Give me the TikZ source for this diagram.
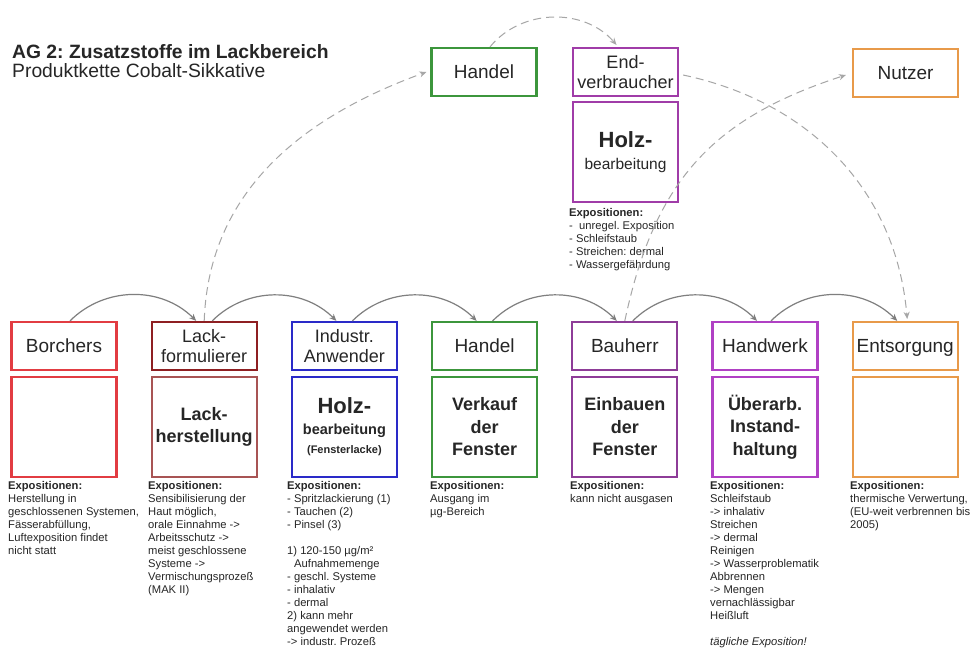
\documentclass[tikz,border=0pt]{standalone}
\usepackage{fontspec}
\setmainfont{Liberation Sans}
\usetikzlibrary{arrows.meta}
\definecolor{txt}{HTML}{262626}
\definecolor{cRed}{HTML}{E23C42}
\definecolor{cDark}{HTML}{8E1F22}
\definecolor{cDarkL}{HTML}{A85454}
\definecolor{cBlue}{HTML}{2A2AC8}
\definecolor{cGreen}{HTML}{3C963C}
\definecolor{cPurple}{HTML}{8E3C98}
\definecolor{cMag}{HTML}{B040C4}
\definecolor{cOrange}{HTML}{E89A4A}
\definecolor{cEnd}{HTML}{A03CA8}
\definecolor{arrowgray}{HTML}{7F7F7F}
\definecolor{dashgray}{HTML}{A6A6A6}
\tikzset{
  boxbase/.style={draw, line width=2.2pt, minimum width=105pt, minimum height=48pt, inner sep=0pt, align=center, text=txt},
  hdr/.style={boxbase, font=\fontsize{19}{19}\selectfont, text height=13.7pt, text depth=0pt},
  hdrtwo/.style={boxbase, font=\fontsize{18}{19.5}\selectfont},
  lowbox/.style={draw, line width=2.2pt, minimum width=105pt, minimum height=100pt, inner sep=0pt, align=center, text=txt, font=\bfseries\fontsize{18}{22.5}\selectfont},
  expo/.style={anchor=north west, inner sep=0pt, align=left, text=txt, font=\fontsize{11.2}{13}\selectfont},
  flow/.style={draw=arrowgray, line width=1.2pt, -{Stealth[length=7pt,width=6pt]}},
  dflow/.style={draw=dashgray, line width=1pt, dash pattern=on 8pt off 5pt, -{Stealth[length=7pt,width=6pt]}},
  ttl/.style={anchor=base west, inner sep=0pt, text=txt},
}
\frenchspacing
\begin{document}
\begin{tikzpicture}[x=1pt,y=-1pt]
\useasboundingbox[fill=white] (0,0) rectangle (971,653);

% title
\node[ttl, font=\bfseries\fontsize{19.3}{21}\selectfont] (title) at (12,58) {AG 2: Zusatzstoffe im Lackbereich};
\node[ttl, font=\fontsize{19.3}{21}\selectfont] (subtitle) at (12,77) {Produktkette Cobalt-Sikkative};

% bottom row headers
\node[hdr, draw=cRed] (borH) at (64,346) {Borchers};
\node[hdrtwo, draw=cDark] (lackH) at (204.2,346) {Lack-\\formulierer};
\node[hdrtwo, draw=cBlue] (indH) at (344.4,346) {Industr.\\Anwender};
\node[hdr, draw=cGreen] (hanH) at (484.6,346) {Handel};
\node[hdr, draw=cPurple] (bauH) at (624.8,346) {Bauherr};
\node[hdr, draw=cMag] (hwH) at (765,346) {Handwerk};
\node[hdr, draw=cOrange] (entH) at (905.2,346) {Entsorgung};

% bottom row lower boxes
\node[lowbox, draw=cRed] (borL) at (64,427) {};
\node[lowbox, draw=cDarkL] (lackL) at (204.2,427) {Lack-\\herstellung};
\node[lowbox, draw=cBlue] (indL) at (344.4,427) {{\fontsize{22}{24}\selectfont Holz-}\\[-2pt]{\fontsize{14.5}{16}\selectfont bearbeitung}\\[-3pt]{\fontsize{11}{13}\selectfont (Fensterlacke)}};
\node[lowbox, draw=cGreen] (hanL) at (484.6,427) {Verkauf\\der\\Fenster};
\node[lowbox, draw=cPurple] (bauL) at (624.8,427) {Einbauen\\der\\Fenster};
\node[lowbox, draw=cMag] (hwL) at (765,427) {Überarb.\\Instand-\\haltung};
\node[lowbox, draw=cOrange] (entL) at (905.2,427) {};

% top row
\node[hdr, draw=cGreen] (hanT) at (484,72) {Handel};
\node[hdrtwo, draw=cEnd] (endH) at (625.5,72) {End-\\verbraucher};
\node[lowbox, draw=cEnd] (endL) at (625.5,152) {{\fontsize{22}{24}\selectfont Holz-}\\[-1pt]{\mdseries\fontsize{15.5}{17}\selectfont bearbeitung}};
\node[hdr, draw=cOrange] (nutH) at (905.5,73) {Nutzer};

% exposition texts
\node[expo] (borE) at (8,481) {\textbf{Expositionen:}\\Herstellung in\\geschlossenen Systemen,\\Fässerabfüllung,\\Luftexposition findet\\nicht statt};
\node[expo] (lackE) at (148,481) {\textbf{Expositionen:}\\Sensibilisierung der\\Haut möglich,\\orale Einnahme ->\\Arbeitsschutz ->\\meist geschlossene\\Systeme ->\\Vermischungsprozeß\\(MAK II)};
\node[expo] (indE) at (287,481) {\textbf{Expositionen:}\\- Spritzlackierung (1)\\- Tauchen (2)\\- Pinsel (3)\\[13pt]1) 120-150 µg/m²\\\hspace*{7pt}Aufnahmemenge\\- geschl. Systeme\\- inhalativ\\- dermal\\2) kann mehr\\angewendet werden\\-> industr. Prozeß};
\node[expo] (hanE) at (430,481) {\textbf{Expositionen:}\\Ausgang im\\µg-Bereich};
\node[expo] (bauE) at (570,481) {\textbf{Expositionen:}\\kann nicht ausgasen};
\node[expo] (hwE) at (710,481) {\textbf{Expositionen:}\\Schleifstaub\\-> inhalativ\\Streichen\\-> dermal\\Reinigen\\-> Wasserproblematik\\Abbrennen\\-> Mengen\\vernachlässigbar\\Heißluft\\[13pt]\textit{tägliche Exposition!}};
\node[expo] (entE) at (850,481) {\textbf{Expositionen:}\\thermische Verwertung,\\(EU-weit verbrennen bis\\2005)};
\node[expo] (endE) at (569,208) {\textbf{Expositionen:}\\- \ unregel. Exposition\\- Schleifstaub\\- Streichen: dermal\\- Wassergefährdung};

% solid flow arrows
\draw[flow] ([xshift=6pt]borH.north) to[bend left=45] ([xshift=-8pt]lackH.north);
\draw[flow] ([xshift=8pt]lackH.north) to[bend left=45] ([xshift=-8pt]indH.north);
\draw[flow] ([xshift=8pt]indH.north) to[bend left=45] ([xshift=-8pt]hanH.north);
\draw[flow] ([xshift=8pt]hanH.north) to[bend left=45] ([xshift=-8pt]bauH.north);
\draw[flow] ([xshift=8pt]bauH.north) to[bend left=45] ([xshift=-8pt]hwH.north);
\draw[flow] ([xshift=6pt]hwH.north) to[bend left=45] ([xshift=-8pt]entH.north);

% dashed arrows
\draw[dflow] (lackH.north) to[out=88,in=200] ([xshift=-4pt]hanT.west);
\draw[dflow] ([xshift=6pt]hanT.north) to[bend left=50] ([xshift=-9pt,yshift=2pt]endH.north);
\draw[dflow] ([xshift=4pt,yshift=-3pt]endH.east) to[out=-12,in=95] ([xshift=2pt,yshift=2pt]entH.north);
\draw[dflow] (bauH.north) to[out=78,in=198,looseness=1.1] ([xshift=-6pt,yshift=-2pt]nutH.west);
\end{tikzpicture}
\end{document}
